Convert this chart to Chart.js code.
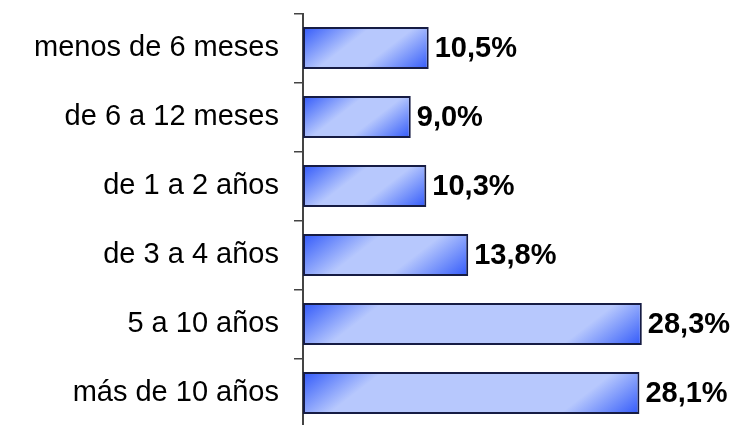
<!DOCTYPE html>
<html>
<head>
<meta charset="utf-8">
<script src="https://cdn.jsdelivr.net/npm/chart.js@4/dist/chart.umd.min.js"></script>
<style>
  html, body { margin: 0; padding: 0; background: #fff; overflow: hidden; }
  #wrap { position: relative; width: 738px; height: 430px; }
</style>
</head>
<body>
<div id="wrap"><canvas id="c"></canvas></div>
<script>
const categories = ['menos de 6 meses', 'de 6 a 12 meses', 'de 1 a 2 años', 'de 3 a 4 años', '5 a 10 años', 'más de 10 años'];
const values = [10.5, 9.0, 10.3, 13.8, 28.3, 28.1];
const valueLabels = ['10,5%', '9,0%', '10,3%', '13,8%', '28,3%', '28,1%'];

const DARK = '#3158fa', LIGHT = '#b7c8fd';
const BAR_PCT = 0.61;

// diagonal gradient per bar, darker at top-left / bottom-right corners
function barFill(ctx) {
  const chart = ctx.chart;
  const xs = chart.scales.x, ys = chart.scales.y;
  if (!xs || !ys || !chart.chartArea) return DARK;
  const left = xs.getPixelForValue(0);
  const right = xs.getPixelForValue(ctx.raw);
  const band = Math.abs(ys.getPixelForValue(1) - ys.getPixelForValue(0));
  const h = band * BAR_PCT;
  const top = ys.getPixelForValue(ctx.dataIndex) - h / 2;
  const w = right - left;
  if (!isFinite(w) || !isFinite(h) || w <= 0) return DARK;
  const k = 1.3;
  const R = w + k * h;
  const s = R / (1 + k * k);
  const g = chart.ctx.createLinearGradient(left, top, left + s, top + k * s);
  const L = Math.min(0.38, 80 / R);
  g.addColorStop(0, DARK);
  g.addColorStop(L * 0.45, '#6d8bfb');
  g.addColorStop(L, LIGHT);
  g.addColorStop(1 - L, LIGHT);
  g.addColorStop(1 - L * 0.45, '#6d8bfb');
  g.addColorStop(1, DARK);
  return g;
}

const valueLabelPlugin = {
  id: 'valueLabels',
  afterDatasetsDraw(chart) {
    const c = chart.ctx;
    const meta = chart.getDatasetMeta(0);
    c.save();
    c.font = 'bold 29px "Liberation Sans", Arial, sans-serif';
    c.fillStyle = '#000';
    c.textAlign = 'left';
    c.textBaseline = 'middle';
    meta.data.forEach((bar, i) => {
      c.fillText(valueLabels[i], bar.x + 6, bar.y + 1);
    });
    c.restore();
  }
};

new Chart(document.getElementById('c').getContext('2d'), {
  type: 'bar',
  data: {
    labels: categories,
    datasets: [{
      data: values,
      backgroundColor: barFill,
      borderColor: '#161c44',
      borderWidth: 2,
      borderSkipped: false,
      barPercentage: BAR_PCT,
      categoryPercentage: 1
    }]
  },
  options: {
    indexAxis: 'y',
    responsive: true,
    maintainAspectRatio: false,
    animation: false,
    layout: { padding: { left: 0, top: 13.5, right: 4, bottom: 2.5 } },
    plugins: { legend: { display: false }, tooltip: { enabled: false } },
    scales: {
      x: { display: false, min: 0, max: 36 },
      y: {
        afterFit(scale) {
          scale.width = 303;
          scale.paddingTop = 0;
          scale.paddingBottom = 0;
        },
        border: { display: true, color: '#444', width: 2 },
        grid: { offset: true, drawOnChartArea: false, drawTicks: true, tickLength: 9, color: '#444', lineWidth: 1.5 },
        ticks: {
          padding: 15,
          color: '#000',
          font: { family: '"Liberation Sans", Arial, sans-serif', size: 29 }
        }
      }
    }
  },
  plugins: [valueLabelPlugin]
});
</script>
</body>
</html>
